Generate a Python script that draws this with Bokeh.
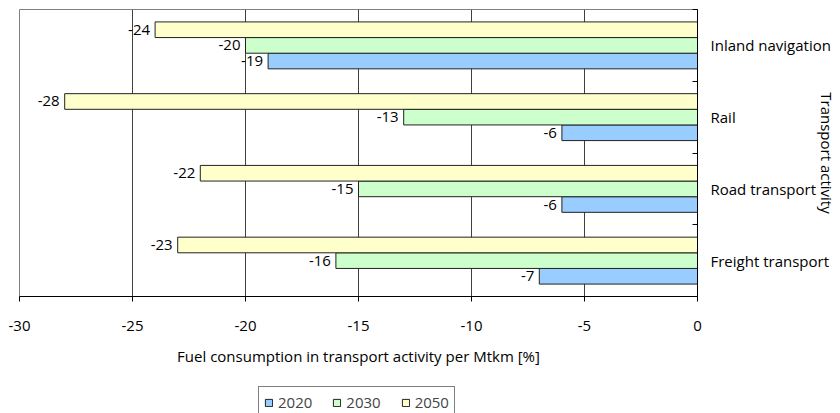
import numpy as np
from bokeh.plotting import figure
from bokeh.layouts import column
from bokeh.models import ColumnDataSource, FixedTicker, Legend, LegendItem, Range1d
from bokeh.core.properties import value
from bokeh.embed import file_html
from bokeh.resources import INLINE

# ---- data (bottom to top on the chart) ----
categories = ["Freight transport", "Road transport", "Rail", "Inland navigation"]
years = ["2020", "2030", "2050"]
v2020 = [-7, -6, -6, -19]
v2030 = [-16, -15, -13, -20]
v2050 = [-23, -22, -28, -24]
x_ticks = [-30, -25, -20, -15, -10, -5, 0]
x_tick_labels = ["-30", "-25", "-20", "-15", "-10", "-5", "0"]
x_title = "Fuel consumption in transport activity per Mtkm [%]"
y_title = "Transport activity"
colors = ["#99CCFF", "#CCFFCC", "#FFFFCC"]

FONT = "Open Sans"
FS = "15px"
EDGE = "#222222"

p = figure(width=840, height=386, output_backend="svg", toolbar_location=None,
           x_range=Range1d(-30, 0), y_range=Range1d(0, len(categories)),
           y_axis_location="right", min_border_left=19, min_border_right=143,
           min_border_top=9, min_border_bottom=90)
p.outline_line_color = "#808080"
p.background_fill_color = "white"
p.border_fill_color = "white"

centers = np.arange(len(categories)) + 0.5
bar_h = 0.218
series = [v2020, v2030, v2050]
for i, (yr, vals, col) in enumerate(zip(years, series, colors)):
    ys = centers + (i - 1) * bar_h
    src = ColumnDataSource(dict(y=ys, v=vals, lbl=[str(v) for v in vals]))
    p.hbar(y="y", left="v", right=0, height=bar_h, source=src,
           fill_color=col, line_color=EDGE, line_width=1)
    p.text(x="v", y="y", text="lbl", source=src, x_offset=-5,
           text_align="right", text_baseline="middle",
           text_font=value(FONT), text_font_size=FS, text_color="black")

# x axis
xa = p.xaxis[0]
xa.ticker = FixedTicker(ticks=x_ticks)
xa.major_label_overrides = {t: l for t, l in zip(x_ticks, x_tick_labels)}
xa.axis_line_color = "black"
xa.major_tick_line_color = "black"
xa.major_tick_out = 5
xa.major_tick_in = 0
xa.minor_tick_line_color = None
xa.major_label_standoff = 19
xa.major_label_text_font = FONT
xa.major_label_text_font_size = FS
xa.major_label_text_color = "black"
xa.axis_label = x_title
xa.axis_label_standoff = 12
xa.axis_label_text_font = FONT
xa.axis_label_text_font_size = FS
xa.axis_label_text_font_style = "normal"
xa.axis_label_text_color = "black"

# y axis (right) - labels at category centres, ticks at boundaries
ya = p.yaxis[0]
ya.ticker = FixedTicker(ticks=list(centers), minor_ticks=list(range(len(categories) + 1)))
ya.major_label_overrides = {float(c): n for c, n in zip(centers, categories)}
ya.axis_line_color = "black"
ya.major_tick_line_color = None
ya.major_tick_out = 0
ya.major_tick_in = 0
ya.minor_tick_line_color = "black"
ya.minor_tick_in = 5
ya.minor_tick_out = 0
ya.major_label_standoff = 13
ya.major_label_text_font = FONT
ya.major_label_text_font_size = FS
ya.major_label_text_color = "black"
ya.axis_label = y_title
ya.axis_label_standoff = -17
ya.axis_label_text_font = FONT
ya.axis_label_text_font_size = FS
ya.axis_label_text_font_style = "normal"
ya.axis_label_text_color = "black"

p.xgrid.ticker = FixedTicker(ticks=x_ticks)
p.xgrid.grid_line_color = "#404040"
p.ygrid.grid_line_color = None

# legend strip below
lg = figure(width=840, height=27, output_backend="svg", toolbar_location=None,
            x_range=Range1d(0, 1), y_range=Range1d(0, 1),
            x_axis_location=None, y_axis_location=None, min_border=0)
lg.outline_line_color = None
lg.xgrid.grid_line_color = None
lg.ygrid.grid_line_color = None
items = []
for yr, col in zip(years, colors):
    r = lg.hbar(y=[-5], left=[0], right=[0.1], height=0.1,
                fill_color=col, line_color=EDGE, line_width=1)
    items.append(LegendItem(label=yr, renderers=[r]))
legend = Legend(items=items, orientation="horizontal", location=(239, -5),
                border_line_color="black", border_line_width=1, padding=5, spacing=20,
                glyph_width=9, glyph_height=9, label_standoff=5,
                label_text_font=FONT, label_text_font_size=FS, margin=0,
                background_fill_color="white", background_fill_alpha=1)
lg.add_layout(legend, "center")

layout = column(p, lg, spacing=0)
open("out.html", "w").write(file_html(layout, INLINE))
